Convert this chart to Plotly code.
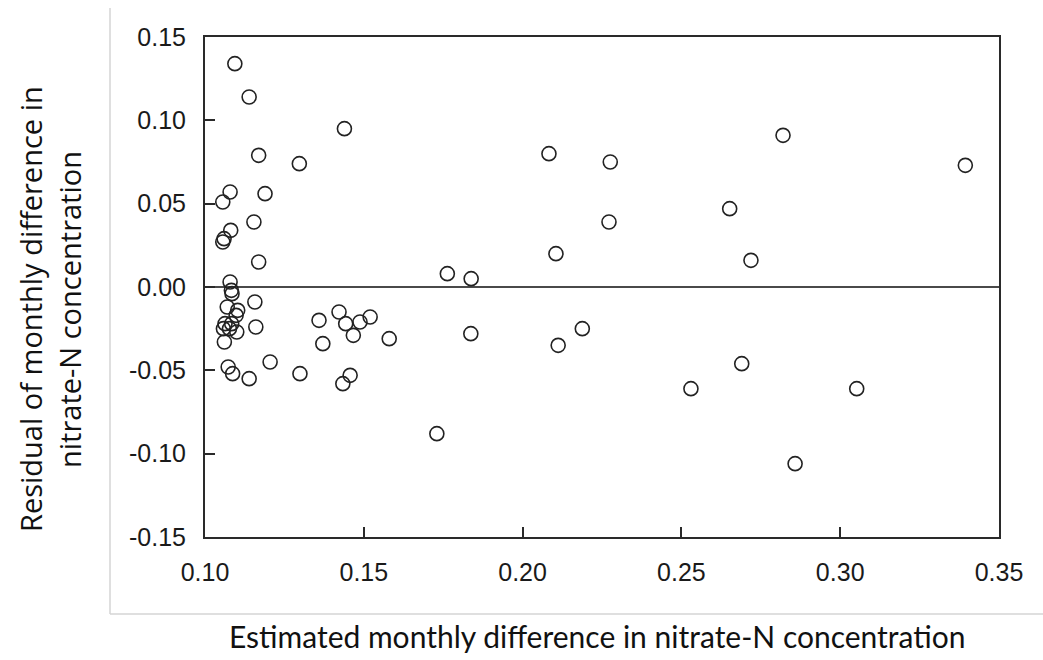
import plotly.graph_objects as go

# Estimated monthly difference (x) and residual (y)
estimated = [
    0.1094, 0.1139, 0.1169, 0.1297, 0.1439, 0.1079, 0.1056, 0.1189, 0.1154, 0.1081,
    0.1060, 0.1056, 0.1169, 0.1079, 0.1083, 0.1085, 0.1157, 0.1070, 0.1103, 0.1098,
    0.1063, 0.1084, 0.1058, 0.1077, 0.1100, 0.1160, 0.1061, 0.1073, 0.1087, 0.1139,
    0.1205, 0.1299, 0.1359, 0.1371, 0.1422, 0.1443, 0.1467, 0.1488, 0.1520, 0.1580,
    0.1457, 0.1434, 0.1763, 0.1838, 0.1837, 0.2112, 0.2188, 0.1730, 0.2083, 0.2276,
    0.2820, 0.3394, 0.2652, 0.2272, 0.2105, 0.2719, 0.2530, 0.2690, 0.3052, 0.2858,
]
residual = [
    0.134, 0.114, 0.079, 0.074, 0.095, 0.057, 0.051, 0.056, 0.039, 0.034,
    0.029, 0.027, 0.015, 0.003, -0.002, -0.004, -0.009, -0.012, -0.014, -0.017,
    -0.022, -0.022, -0.025, -0.025, -0.027, -0.024, -0.033, -0.048, -0.052, -0.055,
    -0.045, -0.052, -0.020, -0.034, -0.015, -0.022, -0.029, -0.021, -0.018, -0.031,
    -0.053, -0.058, 0.008, 0.005, -0.028, -0.035, -0.025, -0.088, 0.080, 0.075,
    0.091, 0.073, 0.047, 0.039, 0.020, 0.016, -0.061, -0.046, -0.061, -0.106,
]

x_tickvals = [0.10, 0.15, 0.20, 0.25, 0.30, 0.35]
x_ticktext = ["0.10", "0.15", "0.20", "0.25", "0.30", "0.35"]
y_tickvals = [-0.15, -0.10, -0.05, 0.00, 0.05, 0.10, 0.15]
y_ticktext = ["-0.15", "-0.10", "-0.05", "0.00", "0.05", "0.10", "0.15"]

x_title = "Estimated monthly difference in nitrate-N concentration"
y_title_1 = "Residual of monthly difference in"
y_title_2 = "nitrate-N concentration"

W, H = 1043, 660
L, R, T, B = 205, 999, 37, 537

fig = go.Figure()
fig.add_trace(go.Scatter(
    x=estimated, y=residual, mode="markers",
    marker=dict(symbol="circle-open", size=14, color="#222222",
                line=dict(width=1.6, color="#222222")),
    showlegend=False, hoverinfo="x+y",
))

tickfont = dict(family="Liberation Sans, Arial, sans-serif", size=25, color="#1a1a1a")
fig.update_layout(
    width=W, height=H,
    margin=dict(l=L, r=W - R, t=T, b=H - B, pad=0),
    paper_bgcolor="white", plot_bgcolor="white",
    xaxis=dict(range=[0.10, 0.35], tickvals=x_tickvals, ticktext=x_ticktext,
               showgrid=False, zeroline=False, showline=True, mirror=True,
               linecolor="#2a2a2a", linewidth=2, ticks="inside", ticklen=10,
               tickwidth=1.5, tickcolor="#2a2a2a", tickfont=tickfont,
               ticklabelstandoff=12),
    yaxis=dict(range=[-0.15, 0.15], tickvals=y_tickvals, ticktext=y_ticktext,
               showgrid=False, zeroline=True, zerolinecolor="#4a4a4a", zerolinewidth=2,
               showline=True, mirror=True,
               linecolor="#2a2a2a", linewidth=2, ticks="inside", ticklen=10,
               tickwidth=1.5, tickcolor="#2a2a2a", tickfont=tickfont,
               ticklabelstandoff=12),
)

def px_x(px):
    return (px - L) / (R - L)

def px_y(py):
    return (B - py) / (B - T)

xtitlefont = dict(family="Lato, Open Sans, sans-serif", size=30, color="#111111")
ytitlefont = dict(family="Open Sans, Noto Sans, sans-serif", size=29, color="#111111")
fig.add_annotation(text=x_title, xref="paper", yref="paper", x=px_x(597), y=px_y(636),
                   showarrow=False, font=xtitlefont, xanchor="center", yanchor="middle")
fig.add_annotation(text=y_title_1, xref="paper", yref="paper", x=px_x(30), y=px_y(309),
                   showarrow=False, font=ytitlefont, textangle=-90,
                   xanchor="center", yanchor="middle")
fig.add_annotation(text=y_title_2, xref="paper", yref="paper", x=px_x(69), y=px_y(310),
                   showarrow=False, font=ytitlefont, textangle=-90,
                   xanchor="center", yanchor="middle")

# faint outer frame of the original figure panel
frame = dict(color="#d4d4d4", width=1.5)
fig.add_shape(type="line", xref="paper", yref="paper",
              x0=px_x(110), x1=px_x(1050), y0=px_y(614), y1=px_y(614), line=frame)
fig.add_shape(type="line", xref="paper", yref="paper",
              x0=px_x(110), x1=px_x(110), y0=px_y(614), y1=px_y(8), line=frame)

fig.write_html("out.html")
